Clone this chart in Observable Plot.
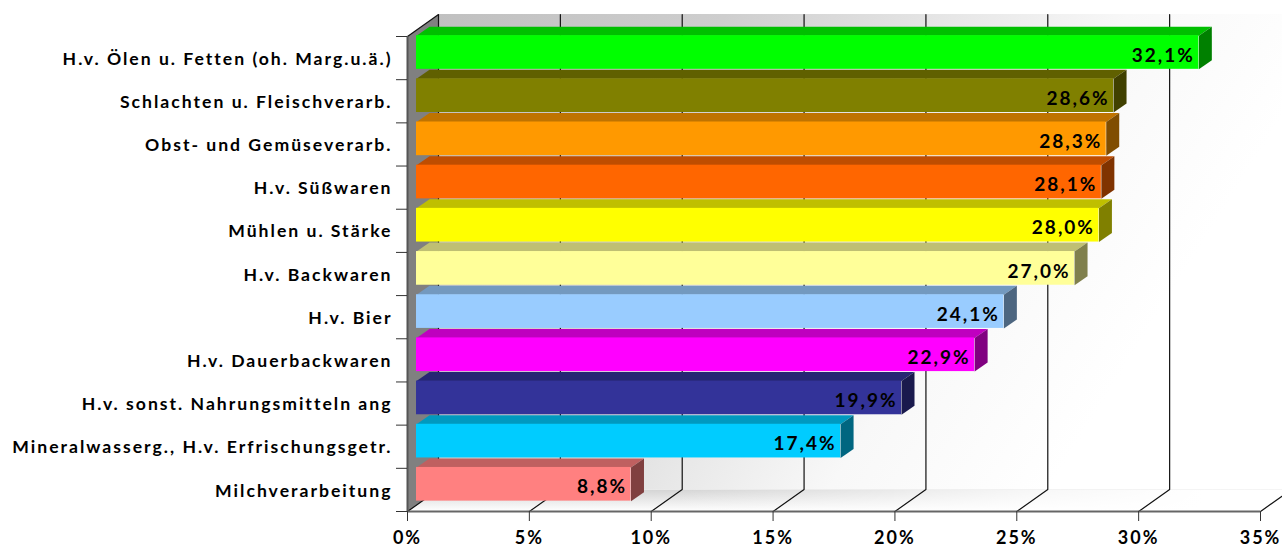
<!DOCTYPE html>
<html>
<head>
<meta charset="utf-8">
<style>html,body{margin:0;padding:0;background:#fff}svg{display:block}svg text{letter-spacing:2px}</style>
<script src="https://cdn.jsdelivr.net/npm/d3@7"></script>
<script src="https://cdn.jsdelivr.net/npm/@observablehq/plot@0.6"></script>
</head>
<body>
<div id="chart"></div>
<script>
const categories = ["H.v. Ölen u. Fetten (oh. Marg.u.ä.)","Schlachten u. Fleischverarb.","Obst- und Gemüseverarb.","H.v. Süßwaren","Mühlen u. Stärke","H.v. Backwaren","H.v. Bier","H.v. Dauerbackwaren","H.v. sonst. Nahrungsmitteln ang","Mineralwasserg., H.v. Erfrischungsgetr.","Milchverarbeitung"];
const values = [32.1,28.6,28.3,28.1,28.0,27.0,24.1,22.9,19.9,17.4,8.8];
const valueLabels = ["32,1%","28,6%","28,3%","28,1%","28,0%","27,0%","24,1%","22,9%","19,9%","17,4%","8,8%"];
const frontColors = ["#00ff00","#808000","#ff9900","#ff6600","#ffff00","#ffff99","#99ccff","#ff00ff","#333399","#00ccff","#ff8080"];
const topColors = ["#00bf00","#606000","#bf7300","#bf4d00","#bfbf00","#bfbf73","#7399bf","#bf00bf","#262673","#0099bf","#bf6060"];
const sideColors = ["#008000","#404000","#804d00","#803300","#808000","#80804d","#4d6680","#800080","#1a1a4d","#006680","#804040"];
const xTicks = [0,5,10,15,20,25,30,35];

// depth of the 3D box, in data units
const wallX = 31/24.37, wallY = 22/43.18;
const depthX = 13/24.37, depthY = 9/43.18;
const barStart = 0.37, barTop = -0.02, barH = 0.78;
const rows = categories.map((c,i)=>({c,i,v:values[i],lab:valueLabels[i],front:frontColors[i],top:topColors[i],side:sideColors[i]}));
const order = rows.slice().reverse();

const faces = order.flatMap(r=>{
  const x1=barStart,x2=barStart+r.v,y1=r.i+barTop,y2=y1+barH;
  return [
    ...[[x1,y1],[x1+depthX,y1-depthY],[x2+depthX,y1-depthY],[x2,y1]].map(([x,y])=>({id:"t"+r.i,x,y,color:r.top})),
    ...[[x2,y1],[x2+depthX,y1-depthY],[x2+depthX,y2-depthY],[x2,y2]].map(([x,y])=>({id:"s"+r.i,x,y,color:r.side}))
  ];
});
const grid = xTicks.flatMap(t=>[[t,11],[t+wallX,11-wallY],[t+wallX,-wallY]].map(([x,y])=>({t,x,y})));
const floorPoly = [[0,11],[35,11],[35+wallX,11-wallY],[wallX,11-wallY]].map(([x,y])=>({x,y}));
const sidePoly = [[0,0],[wallX,-wallY],[wallX,11-wallY],[0,11]].map(([x,y])=>({x,y}));

const defs = () => d3.create("svg:defs").html(`
<linearGradient id="wallG" x1="0" y1="0" x2="1" y2="0.35">
<stop offset="0" stop-color="#c0c0c0"/><stop offset="0.3" stop-color="#cecece"/><stop offset="0.55" stop-color="#e8e8e8"/><stop offset="0.72" stop-color="#f8f8f8"/><stop offset="0.95" stop-color="#ffffff"/>
</linearGradient>
<linearGradient id="floorG" x1="0" y1="0" x2="0" y2="1">
<stop offset="0" stop-color="#d4d4d4"/><stop offset="1" stop-color="#ffffff"/>
</linearGradient>
<linearGradient id="floorFade" x1="0" y1="0" x2="1" y2="0">
<stop offset="0" stop-color="#fff" stop-opacity="0"/><stop offset="0.3" stop-color="#fff" stop-opacity="0"/><stop offset="0.7" stop-color="#fff" stop-opacity="0.8"/><stop offset="0.9" stop-color="#fff" stop-opacity="1"/>
</linearGradient>`).node();

const font = "Lato, sans-serif";
const chart = Plot.plot({
  width:1282, height:548, marginLeft:407, marginRight:22, marginTop:36, marginBottom:37,
  style:{background:"#fff",fontFamily:font,overflow:"hidden"},
  x:{domain:[0,35],label:null},
  y:{domain:[0,11],range:[36,511],label:null},
  color:{type:"identity"},
  marks:[
    defs,
    Plot.rect([0],{x1:wallX,x2:35+wallX,y1:-wallY,y2:11-wallY,fill:"url(#wallG)"}),
    Plot.line(floorPoly,{x:"x",y:"y",fill:"url(#floorG)",stroke:null}),
    Plot.line(floorPoly,{x:"x",y:"y",fill:"url(#floorFade)",stroke:null}),
    Plot.line(sidePoly,{x:"x",y:"y",fill:"#808080",stroke:null}),
    Plot.line(grid,{x:"x",y:"y",z:"t",stroke:"#111",strokeWidth:1.2}),
    Plot.link([0],{x1:0,y1:0,x2:wallX,y2:-wallY,stroke:"#111",strokeWidth:1.2}),
    Plot.ruleY([11],{x1:0,x2:35,stroke:"#666",strokeWidth:2}),
    Plot.ruleX([0],{y1:0,y2:11,stroke:"#555",strokeWidth:2}),
    Plot.axisY({ticks:d3.range(0,12),tickSize:11,tickFormat:()=>"",stroke:"#333"}),
    Plot.line(faces,{x:"x",y:"y",z:"id",fill:"color",stroke:null}),
    Plot.rect(order,{x1:()=>barStart,x2:d=>barStart+d.v,y1:d=>d.i+barTop,y2:d=>d.i+barTop+barH,fill:"front"}),
    Plot.text(rows,{x:d=>barStart+d.v,y:d=>d.i+0.44,text:"lab",textAnchor:"end",dx:-4,fill:"#000",fontSize:19,fontWeight:700,fontFamily:font}),
    Plot.axisX({ticks:xTicks,tickSize:10,tickPadding:10,tickFormat:d=>d+"%",anchor:"bottom",stroke:"#333",fill:"#000",fontSize:18,fontWeight:700,label:null}),
    Plot.text(rows,{x:0,y:d=>d.i+0.5,text:"c",textAnchor:"end",dx:-15,dy:1,fill:"#000",fontSize:17.6,fontWeight:700,fontFamily:font})
  ]
});
document.getElementById("chart").appendChild(chart);
</script>
</body>
</html>
